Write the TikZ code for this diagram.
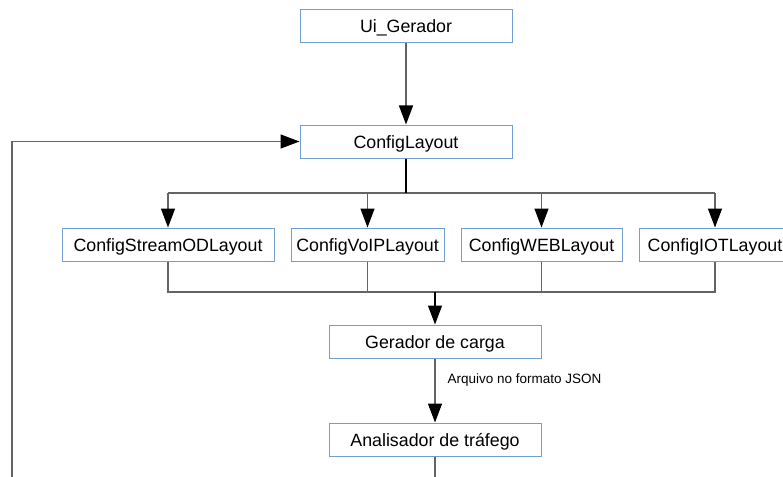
\documentclass[tikz,border=0pt]{standalone}
\usepackage{fontspec}
\setmainfont{Liberation Sans}
\usetikzlibrary{arrows.meta}
\definecolor{boxblue}{RGB}{114,159,207}
\definecolor{linegray}{RGB}{100,100,100}
\newcommand{\boxfont}{\fontsize{17.8}{20}\selectfont}
\newcommand{\rotfont}{\fontsize{13.5}{16}\selectfont}

\begin{document}
\begin{tikzpicture}[x=1pt,y=-1pt,
   bloco/.style={draw=boxblue,line width=1pt,minimum height=33pt,inner sep=0pt,
                 text height=13pt,text depth=0pt,font=\boxfont},
   seta/.style={-{Triangle[length=19pt,width=14pt,color=black]}},
   liga/.style={draw=linegray,line width=1.3pt}]
   \useasboundingbox (0,0) rectangle (783,476);
   \clip (0,0) rectangle (783,476);
   % caixas
   \node[bloco,minimum width=212pt] (ui)      at (406,26.5)  {Ui\_Gerador};
   \node[bloco,minimum width=212pt] (cfg)     at (406,141.5) {ConfigLayout};
   \node[bloco,minimum width=212pt] (stream)  at (168,244.5) {ConfigStreamODLayout};
   \node[bloco,minimum width=153pt] (voip)    at (367.5,244.5) {ConfigVoIPLayout};
   \node[bloco,minimum width=161pt] (web)     at (541.5,244.5) {ConfigWEBLayout};
   \node[bloco,minimum width=152pt] (iot)     at (715,244.5) {ConfigIOTLayout};
   \node[bloco,minimum width=212pt] (gerador) at (435,341.5) {Gerador de carga};
   \node[bloco,minimum width=212pt] (anal)    at (435,439.5) {Analisador de tráfego};
   \coordinate (ramo)  at (406,193);
   \coordinate (junta) at (435,292);
   \coordinate (volta) at (12,506);
   % ligacoes
   \draw[liga,seta] (ui) -- (cfg);
   \draw[liga] (stream.north |- ramo) -- (iot.north |- ramo);
   \draw[black,line width=1.3pt] (cfg.south) -- (ramo);
   \draw[liga,seta] (stream.north |- ramo) -- (stream.north);
   \draw[liga,seta] (voip.north |- ramo) -- (voip.north);
   \draw[liga,seta] (web.north |- ramo) -- (web.north);
   \draw[liga,seta] (iot.north |- ramo) -- (iot.north);
   \draw[liga] (stream.south) |- (junta) -| (iot.south);
   \draw[liga] (voip.south) -- (voip.south |- junta);
   \draw[liga] (web.south) -- (web.south |- junta);
   \draw[black,line width=1.3pt,seta] (junta) -- (gerador);
   \draw[liga,seta] (gerador) -- node[pos=0.34,anchor=west,inner sep=0pt,xshift=12pt,font=\rotfont] {Arquivo no formato JSON} (anal);
   \draw[liga,seta] (anal.south) |- (volta) |- (cfg.west);
\end{tikzpicture}
\end{document}
